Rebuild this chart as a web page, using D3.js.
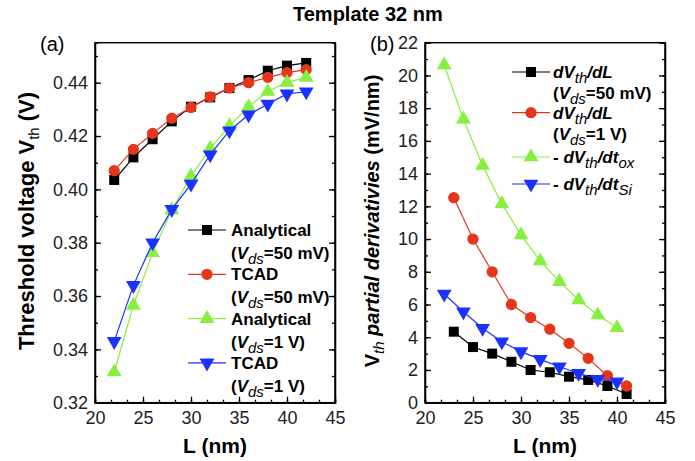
<!DOCTYPE html>
<html>
<head>
<meta charset="utf-8">
<script src="https://cdn.jsdelivr.net/npm/d3@7"></script>
<style>
  body { margin: 0; background: #fff; }
  svg { font-family: "Liberation Sans", Arial, sans-serif; }
  .axis text { font-size: 18px; fill: #222; }
  .axis path, .axis line { stroke: #000; stroke-width: 1.3; }
  .lab { font-weight: bold; font-size: 21px; }
  .leg { font-weight: bold; font-size: 17px; }
</style>
</head>
<body>
<svg id="myGraph" width="695" height="461"></svg>
<script>
// (a) threshold voltage
var lenA = [22, 24, 26, 28, 30, 32, 34, 36, 38, 40, 42]
var vthAna50 = [0.4035, 0.412, 0.4188, 0.4255, 0.431, 0.4345, 0.438, 0.441, 0.4445, 0.4464, 0.4474]
var vthTcad50 = [0.407, 0.415, 0.421, 0.4267, 0.4307, 0.4347, 0.438, 0.440, 0.442, 0.4438, 0.4449]
var vthAna1 = [0.3315, 0.3565, 0.3762, 0.3923, 0.405, 0.4154, 0.4238, 0.431, 0.4367, 0.4401, 0.442]
var vthTcad1 = [0.343, 0.364, 0.380, 0.3925, 0.402, 0.413, 0.422, 0.428, 0.432, 0.4358, 0.4366]
var yTicksA = [0.32, 0.34, 0.36, 0.38, 0.40, 0.42, 0.44]

// (b) partial derivatives
var lenOdd = [23, 25, 27, 29, 31, 33, 35, 37, 39, 41]
var lenEven = [22, 24, 26, 28, 30, 32, 34, 36, 38, 40]
var dLds50 = [4.34, 3.4, 3.0, 2.5, 2.0, 1.86, 1.59, 1.39, 1.02, 0.53]
var dLds1 = [12.53, 10.0, 8.0, 6.0, 5.2, 4.49, 3.63, 2.71, 1.65, 1.02]
var dTox = [20.64, 17.32, 14.49, 12.15, 10.25, 8.66, 7.4, 6.28, 5.36, 4.58]
var dTsi = [6.64, 5.56, 4.55, 3.73, 3.12, 2.65, 2.2, 1.8, 1.43, 1.28]
var yTicksB = [0, 2, 4, 6, 8, 10, 12, 14, 16, 18, 20, 22]
var xTicks = [20, 25, 30, 35, 40, 45]

var cBlack = "#000000", cRed = "#e5361b", cGreen = "#86ef3f", cBlue = "#1b32ff"

var svg = d3.select("#myGraph")

svg.append("text").attr("class", "lab").attr("x", 293).attr("y", 21)
	.style("font-size", "20px").text("Template 32 nm")

var frameTop = 42.7, frameBottom = 402.7

// 패널 그리기
function panel(x0, x1, yDomain, yTicks, fmt, label) {
	var xScale = d3.scaleLinear().domain([20, 45]).range([x0, x1])
	var yScale = d3.scaleLinear().domain(yDomain).range([frameBottom, frameTop])
	var g = svg.append("g")

	// minor ticks
	var xMinor = d3.range(0, 16).map(function(k) { return 20 + k * 5 / 3 })
	var step = yTicks[1] - yTicks[0]
	var yMinor = []
	for (var v = yDomain[0]; v <= yDomain[1] + 1e-9; v += step / 2) yMinor.push(v)

	g.append("g").attr("class", "axis")
		.attr("transform", "translate(0," + frameBottom + ")")
		.call(d3.axisBottom(xScale).tickValues(xMinor).tickSize(-3).tickFormat(""))
	g.append("g").attr("class", "axis")
		.attr("transform", "translate(0," + frameBottom + ")")
		.call(d3.axisBottom(xScale).tickValues(xTicks).tickSize(-6).tickSizeOuter(0).tickPadding(9))
	g.append("g").attr("class", "axis")
		.attr("transform", "translate(" + x0 + ",0)")
		.call(d3.axisLeft(yScale).tickValues(yMinor).tickSize(-3).tickFormat(""))
	g.append("g").attr("class", "axis")
		.attr("transform", "translate(" + x0 + ",0)")
		.call(d3.axisLeft(yScale).tickValues(yTicks).tickFormat(fmt).tickSize(-6).tickSizeOuter(0).tickPadding(7))
	g.append("g").attr("class", "axis")
		.attr("transform", "translate(" + x1 + ",0)")
		.call(d3.axisRight(yScale).tickValues(yMinor).tickSize(-3).tickFormat(""))
	g.append("g").attr("class", "axis")
		.attr("transform", "translate(" + x1 + ",0)")
		.call(d3.axisRight(yScale).tickValues(yTicks).tickSize(-6).tickSizeOuter(0).tickFormat(""))

	g.append("rect").attr("x", x0).attr("y", frameTop).attr("width", x1 - x0).attr("height", frameBottom - frameTop)
		.attr("fill", "none").attr("stroke", "#000").attr("stroke-width", 1.5)

	g.append("text").attr("class", "lab").attr("x", (x0 + x1) / 2).attr("y", 453)
		.attr("text-anchor", "middle").text("L (nm)")
	g.append("text").attr("x", x0 - 55).attr("y", 51).style("font-size", "20px").text(label)

	return { x: xScale, y: yScale, g: g }
}

var symType = { square: d3.symbolSquare, circle: d3.symbolCircle, up: d3.symbolTriangle, down: d3.symbolTriangle }
var symSize = { square: 100, circle: 100, up: 95, down: 95 }

function symPath(kind) {
	return d3.symbol().type(symType[kind]).size(symSize[kind])()
}

function series(p, xs, ys, color, kind) {
	var pts = xs.map(function(d, i) { return [d, ys[i]] })
	p.g.append("path").datum(pts)
		.attr("fill", "none").attr("stroke", color).attr("stroke-width", 1.2)
		.attr("d", d3.line().x(function(d) { return p.x(d[0]) }).y(function(d) { return p.y(d[1]) }))
	p.g.selectAll(null).data(pts).enter().append("path")
		.attr("d", symPath(kind)).attr("fill", color)
		.attr("transform", function(d) {
			return "translate(" + p.x(d[0]) + "," + p.y(d[1]) + ")" + (kind == "down" ? " rotate(180)" : "")
		})
}

function legendKey(x, y, color, kind) {
	svg.append("line").attr("x1", x).attr("x2", x + 38).attr("y1", y).attr("y2", y)
		.attr("stroke", color).attr("stroke-width", 1.2)
	svg.append("path").attr("d", symPath(kind)).attr("fill", color)
		.attr("transform", "translate(" + (x + 19) + "," + y + ")" + (kind == "down" ? " rotate(180)" : ""))
}

// parts: [text, italic, sub]
function richText(x, y, parts) {
	var t = svg.append("text").attr("class", "leg").attr("x", x).attr("y", y)
	parts.forEach(function(p) {
		var s = t.append("tspan").text(p[0])
		if (p[1]) s.style("font-style", "italic")
		if (p[2]) s.attr("baseline-shift", "-30%").style("font-weight", "normal").style("font-size", "15px")
	})
	return t
}

// ---- (a)
var pa = panel(95, 335, [0.32, 0.455], yTicksA, d3.format(".2f"), "(a)")
series(pa, lenA, vthAna50, cBlack, "square")
series(pa, lenA, vthTcad50, cRed, "circle")
series(pa, lenA, vthAna1, cGreen, "up")
series(pa, lenA, vthTcad1, cBlue, "down")

var legA = [["Analytical", "50 mV", cBlack, "square"], ["TCAD", "50 mV", cRed, "circle"],
	["Analytical", "1 V", cGreen, "up"], ["TCAD", "1 V", cBlue, "down"]]
legA.forEach(function(d, i) {
	var y = 230 + i * 44.3
	legendKey(188, y, d[2], d[3])
	richText(231, y + 6, [[d[0]]])
	richText(231, y + 29, [["("], ["V", true], ["ds", true, true], ["=" + d[1] + ")"]])
})

svg.append("text").attr("class", "lab").attr("transform", "translate(34,221) rotate(-90)")
	.attr("text-anchor", "middle").style("font-size", "22px")
	.call(function(t) {
		t.append("tspan").text("Threshold voltage V")
		t.append("tspan").text("th").attr("baseline-shift", "-30%").style("font-weight", "normal").style("font-size", "15px")
		t.append("tspan").text(" (V)")
	})

// ---- (b)
var pb = panel(425, 665, [0, 22], yTicksB, d3.format("d"), "(b)")
series(pb, lenOdd, dLds50, cBlack, "square")
series(pb, lenOdd, dLds1, cRed, "circle")
series(pb, lenEven, dTox, cGreen, "up")
series(pb, lenEven, dTsi, cBlue, "down")

legendKey(512, 72, cBlack, "square")
richText(553, 78, [["dV", true], ["th", true, true], ["/dL", true]])
richText(553, 99, [["("], ["V", true], ["ds", true, true], ["=50 mV)"]])
legendKey(512, 112.7, cRed, "circle")
richText(553, 119, [["dV", true], ["th", true, true], ["/dL", true]])
richText(553, 140, [["("], ["V", true], ["ds", true, true], ["=1 V)"]])
legendKey(512, 157, cGreen, "up")
richText(553, 163, [["- dV", true], ["th", true, true], ["/dt", true], ["ox", true, true]])
legendKey(512, 184, cBlue, "down")
richText(553, 190, [["- dV", true], ["th", true, true], ["/dt", true], ["Si", true, true]])

svg.append("text").attr("class", "lab").attr("transform", "translate(379,221) rotate(-90)")
	.attr("text-anchor", "middle").style("font-size", "20px")
	.call(function(t) {
		t.append("tspan").text("V")
		t.append("tspan").text("th").attr("baseline-shift", "-30%").style("font-weight", "normal").style("font-style", "italic").style("font-size", "15px")
		t.append("tspan").text(" partial derivativies").style("font-style", "italic")
		t.append("tspan").text(" (mV/nm)")
	})
</script>
</body>
</html>
